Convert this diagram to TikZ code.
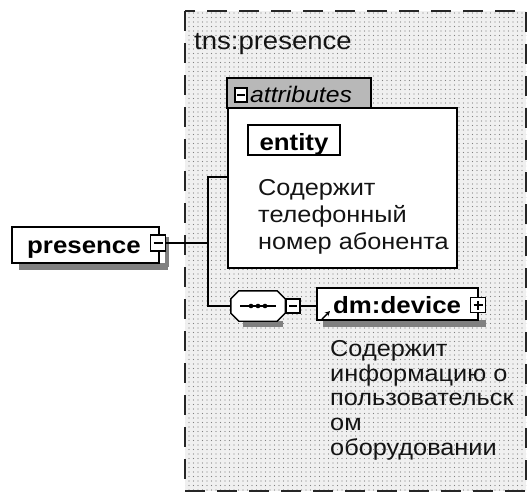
\documentclass[tikz,border=0pt]{standalone}
\usepackage{fontspec}
\setmainfont{Liberation Sans}[FakeStretch=1.1]
\usetikzlibrary{patterns.meta,arrows.meta}
\tikzset{
  x=1pt, y=-1pt,
  frame/.style={draw=black!85, line width=1.4pt, dash pattern=on 20pt off 12pt,
    preaction={fill=black!6}, pattern={Dots[distance=4.5pt,radius=0.6pt]}, pattern color=black!50},
  elbox/.style={draw=black, line width=1.4pt, fill=white, inner sep=0pt},
  shadowbox/.style={draw=none, fill=black!50, inner sep=0pt, outer sep=0pt},
  tabbox/.style={draw=black, line width=1.4pt, fill=black!28, inner sep=0pt},
  btn/.style={draw=black, line width=1.2pt, fill=white, inner sep=0pt},
  ghost/.style={draw=none, inner sep=0pt},
  conn/.style={draw=black, line width=1.3pt},
  btxt/.style={font=\fontsize{23.5}{26}\selectfont\bfseries, anchor=base west, inner sep=0pt, text=black},
  rtxt/.style={font=\fontsize{23}{26}\selectfont, anchor=base west, inner sep=0pt, text=black!92},
}
\begin{document}
\begin{tikzpicture}
\useasboundingbox (0,0) rectangle (530,499);
% outer group frame
\path[frame] (185,11) rectangle (526,491);
\node[rtxt, font=\fontsize{25}{28}\selectfont] (tns) at (194,49) {tns:presence};

% shadows (drawn first, under the boxes): bottom strips and right strips
\node[shadowbox, minimum width=149pt, minimum height=7pt] (presshadow) at (93.5,266.5) {};
\node[shadowbox, minimum width=4pt, minimum height=30pt] (presshadowr) at (167,252) {};
\node[shadowbox, minimum width=92pt, minimum height=6pt] (entityshadow) at (299,158) {};
\node[shadowbox, minimum width=6pt, minimum height=30pt] (entityshadowr) at (343,145) {};
\node[shadowbox, minimum width=163pt, minimum height=7pt] (devshadow) at (404.5,323.5) {};
\node[shadowbox, minimum width=40pt, minimum height=6pt] (seqshadow) at (263,324) {};

% attributes group
\node[tabbox, minimum width=144pt, minimum height=30pt] (tab) at (299,93) {};
\node[elbox, minimum width=229pt, minimum height=160pt] (attr) at (342.5,188) {};
\node[btn, minimum width=12pt, minimum height=14pt] (tabbtn) at (241,95) {};
\draw[line width=1.1pt] ([xshift=-4pt]tabbtn.center) -- ([xshift=4pt]tabbtn.center);
\node[rtxt, font=\fontsize{22.5}{26}\selectfont\itshape, text=black] (attrlbl) at (250,102) {attributes};
\node[elbox, minimum width=92pt, minimum height=30pt] (entity) at (294,140) {};
\node[btxt, anchor=base] (entitylbl) at (294,150) {entity};
\node[rtxt] (a1) at (258,195) {Содержит};
\node[rtxt] (a2) at (258,222) {телефонный};
\node[rtxt] (a3) at (258,249) {номер абонента};

% root element
\node[elbox, minimum width=147pt, minimum height=36pt] (pres) at (85.5,245) {};
\node[btxt] (preslbl) at (27,253) {presence};
\node[btn, minimum width=15pt, minimum height=16pt] (presbtn) at (158,243) {};
\draw[line width=1.1pt] ([xshift=-4.5pt]presbtn.center) -- ([xshift=4.5pt]presbtn.center);

% sequence compositor (octagon)
\node[ghost, minimum width=54pt, minimum height=30pt] (seq) at (258,306) {};
\draw[line width=1.4pt, fill=white]
  ([xshift=8pt]seq.north west) -- ([xshift=-8pt]seq.north east)
  -- ([yshift=-8pt]seq.north east) -- ([yshift=8pt]seq.south east)
  -- ([xshift=-8pt]seq.south east) -- ([xshift=8pt]seq.south west)
  -- ([yshift=8pt]seq.south west) -- ([yshift=-8pt]seq.north west) -- cycle;
\draw[line width=1.2pt] ([xshift=-18pt]seq.center) -- ([xshift=18pt]seq.center);
\foreach \dx in {-7,0,7} \fill ([xshift=\dx pt]seq.center) circle (2.3pt);
\node[btn, minimum width=14pt, minimum height=14pt] (seqbtn) at (293,306) {};
\draw[line width=1.1pt] ([xshift=-4pt]seqbtn.center) -- ([xshift=4pt]seqbtn.center);

% device element
\node[elbox, minimum width=161pt, minimum height=32pt] (dev) at (397.5,304) {};
\node[btxt] (devlbl) at (333,313) {dm:device};
\draw[line width=1.4pt, -{Stealth[length=5pt,width=5pt]}] (322,319) -- (330,311);
\node[btn, minimum width=15pt, minimum height=15pt] (devbtn) at (478,305) {};
\draw[line width=1.1pt] ([xshift=-4.5pt]devbtn.center) -- ([xshift=4.5pt]devbtn.center)
  ([yshift=-4.5pt]devbtn.center) -- ([yshift=4.5pt]devbtn.center);
\node[rtxt] (d1) at (330,356) {Содержит};
\node[rtxt] (d2) at (330,381) {информацию о};
\node[rtxt] (d3) at (330,405) {пользовательск};
\node[rtxt] (d4) at (330,430) {ом};
\node[rtxt] (d5) at (330,455) {оборудовании};

% connectors
\coordinate (jt) at (208,177);
\coordinate (jm) at (208,243);
\coordinate (jb) at (208,306);
\draw[conn] (presbtn.east) -- (jm);
\draw[conn] (attr.west |- jt) -- (jt) -- (jb) -- (seq.west);
\draw[conn] (seqbtn.east) -- (seqbtn.east -| dev.west);
\end{tikzpicture}
\end{document}
